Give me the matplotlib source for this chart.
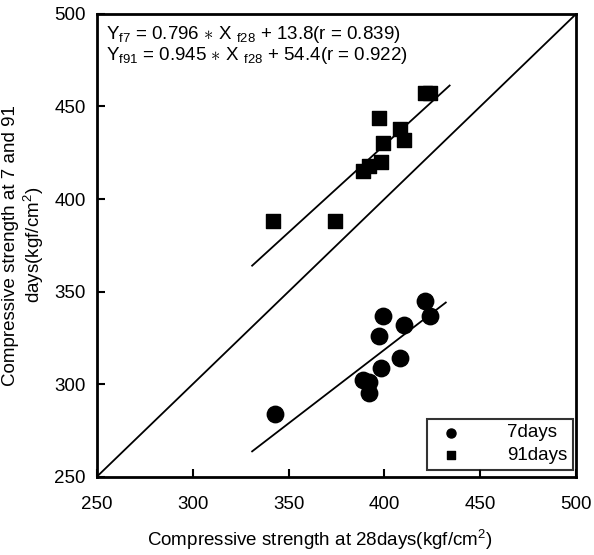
import numpy as np
import matplotlib
matplotlib.use('Agg')
from matplotlib import pyplot as plt

plt.rcParams['font.family'] = ['Liberation Sans', 'DejaVu Sans']
plt.rcParams['mathtext.fontset'] = 'custom'
plt.rcParams['mathtext.rm'] = 'Liberation Sans'
plt.rcParams['mathtext.it'] = 'Liberation Sans'

# 28일 강도 vs 7일 강도
x_7days = [343, 389, 392, 392, 398, 397, 399, 408, 410, 421, 424]
y_7days = [284, 302, 301, 295, 309, 326, 337, 314, 332, 345, 337]

# 28일 강도 vs 91일 강도
x_91days = [342, 374, 389, 392, 398, 399, 397, 408, 410, 421, 424]
y_91days = [388, 388, 415, 418, 420, 430, 444, 438, 432, 457, 457]

# 회귀선 (그림에서 읽은 양 끝점)
line7_x = [331, 432]
line7_y = [263.7, 344.1]
line91_x = [331, 434]
line91_y = [364.0, 461.3]

ticks = [250, 300, 350, 400, 450, 500]

fig = plt.figure(figsize=(5.94, 5.55), dpi=100)
ax = fig.add_axes([0.163, 0.141, 0.807, 0.834])

ax.plot([250, 500], [250, 500], color='black', lw=1.3)
ax.plot(line7_x, line7_y, color='black', lw=1.3)
ax.plot(line91_x, line91_y, color='black', lw=1.3)

ax.scatter(x_7days, y_7days, marker='o', s=140, color='black', label='7days', zorder=3)
ax.scatter(x_91days, y_91days, marker='s', s=110, color='black', label='91days', zorder=3)

ax.set_xlim(250, 500)
ax.set_ylim(250, 500)
ax.set_xticks(ticks)
ax.set_yticks(ticks)
ax.tick_params(direction='in', length=6, width=1.5, labelsize=13.5)
ax.tick_params(axis='x', pad=14)
ax.tick_params(axis='y', pad=8)
for sp in ax.spines.values():
    sp.set_linewidth(2)

ax.text(0.02, 0.955, r'Y$_{\rm f7}$ = 0.796 $\ast$ X $_{\rm f28}$ + 13.8(r = 0.839)',
        transform=ax.transAxes, fontsize=13.5, va='center')
ax.text(0.02, 0.909, r'Y$_{\rm f91}$ = 0.945 $\ast$ X $_{\rm f28}$ + 54.4(r = 0.922)',
        transform=ax.transAxes, fontsize=13.5, va='center')

ax.set_xlabel(r'Compressive strength at 28days(kgf/cm$^2$)', fontsize=13.5)
ax.xaxis.set_label_coords(0.465, -0.11)
ax.set_ylabel('Compressive strength at 7 and 91\n' + r'days(kgf/cm$^2$)', fontsize=13.5)
ax.yaxis.set_label_coords(-0.105, 0.5)

leg = ax.legend(loc='lower right', fontsize=13.5, frameon=True, fancybox=False,
                edgecolor='black', markerscale=0.55, handletextpad=2.0,
                borderpad=0.3, labelspacing=0.3, borderaxespad=0,
                bbox_to_anchor=(0.994, 0.015))
leg.get_frame().set_linewidth(1.5)

plt.savefig('out.png', dpi=100)
plt.close('all')
